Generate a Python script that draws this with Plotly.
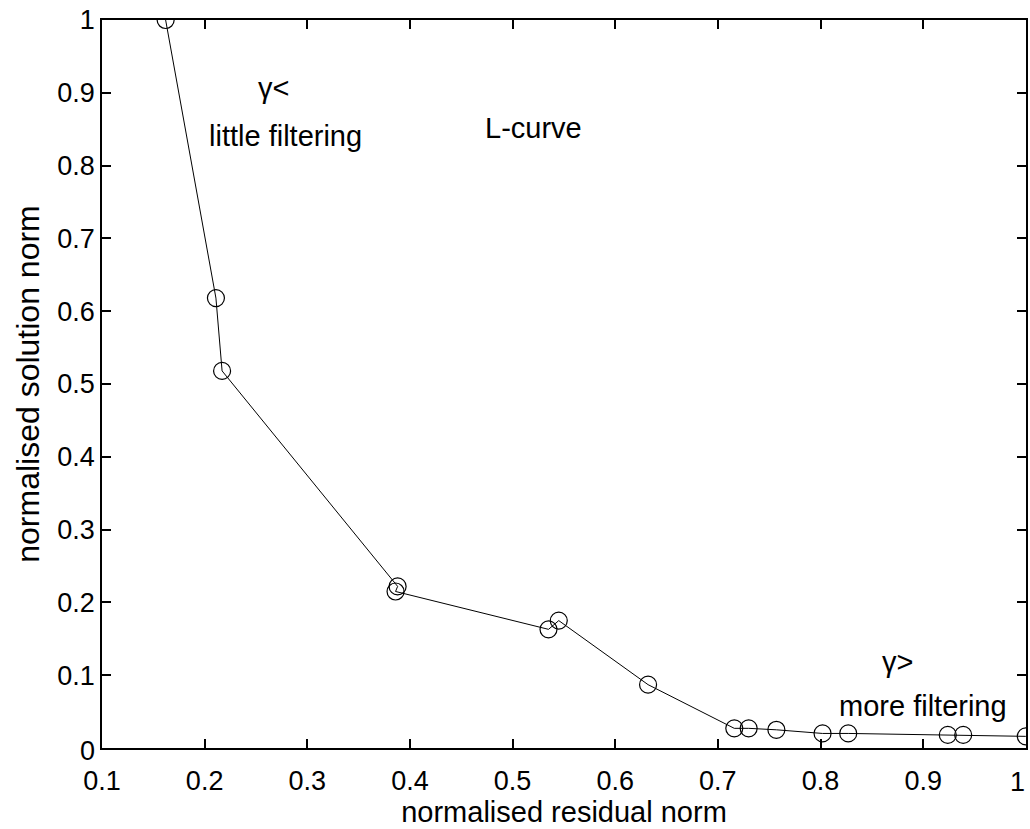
import plotly.graph_objects as go

# L-curve: normalised residual norm vs normalised solution norm
residual_norm = [0.162, 0.211, 0.217, 0.388, 0.386, 0.535, 0.545, 0.632,
                 0.716, 0.730, 0.757, 0.802, 0.827, 0.924, 0.939, 1.000]
solution_norm = [1.000, 0.618, 0.518, 0.222, 0.215, 0.163, 0.175, 0.087,
                 0.027, 0.027, 0.025, 0.020, 0.020, 0.018, 0.018, 0.016]

x_ticks = [0.1, 0.2, 0.3, 0.4, 0.5, 0.6, 0.7, 0.8, 0.9, 1.0]
x_tick_text = ["0.1", "0.2", "0.3", "0.4", "0.5", "0.6", "0.7", "0.8", "0.9", "1"]
y_ticks = [0.0, 0.1, 0.2, 0.3, 0.4, 0.5, 0.6, 0.7, 0.8, 0.9, 1.0]
y_tick_text = ["", "0.1", "0.2", "0.3", "0.4", "0.5", "0.6", "0.7", "0.8", "0.9", "1"]

FONT = "Liberation Sans, Arial, Helvetica, sans-serif"
TICK_SIZE = 27
TEXT_SIZE = 29

fig = go.Figure()
fig.add_trace(go.Scatter(
    x=residual_norm, y=solution_norm,
    mode="lines+markers",
    line=dict(color="black", width=1),
    marker=dict(symbol="circle-open", size=17, color="black", line=dict(width=1.2)),
    showlegend=False,
))

axis_common = dict(
    showgrid=False, zeroline=False,
    showline=True, linecolor="black", linewidth=1.5,
    mirror="ticks", ticks="inside", ticklen=9, tickwidth=1.5, tickcolor="black",
    tickfont=dict(family=FONT, size=TICK_SIZE, color="black"),
)

fig.update_xaxes(
    range=[0.1, 1.0002], tickmode="array", tickvals=x_ticks, ticktext=x_tick_text,
    ticklabelstandoff=8,
    title=dict(text="normalised residual norm", font=dict(family=FONT, size=TEXT_SIZE, color="black"), standoff=0),
    **axis_common,
)
fig.update_yaxes(
    range=[0.0, 1.0], tickmode="array", tickvals=y_ticks, ticktext=y_tick_text,
    title=dict(text="normalised solution norm", font=dict(family=FONT, size=32, color="black"), standoff=8),
    **axis_common,
)

notes = [
    ("γ<", 0.267, 0.907),
    ("little filtering", 0.279, 0.840),
    ("L-curve", 0.520, 0.852),
    ("γ>", 0.875, 0.118),
    ("more filtering", 0.900, 0.058),
]
for text, x, y in notes:
    fig.add_annotation(x=x, y=y, xref="x", yref="y", text=text, showarrow=False,
                       font=dict(family=FONT, size=TEXT_SIZE, color="black"))

# zero label of the vertical axis, set just above the horizontal tick labels
fig.add_annotation(x=0, y=0, xref="paper", yref="paper", text="0", showarrow=False,
                   xanchor="right", yanchor="middle", xshift=-5, yshift=-3,
                   font=dict(family=FONT, size=TICK_SIZE, color="black"))

# last horizontal tick label, kept inside the right edge of the page
fig.add_annotation(x=x_ticks[-1], y=0, xref="x", yref="paper", text=x_tick_text[-1],
                   showarrow=False, xanchor="right", yanchor="top", xshift=1, yshift=-17,
                   font=dict(family=FONT, size=TICK_SIZE, color="black"))

fig.update_layout(
    width=1030, height=829,
    margin=dict(l=102, r=2, t=20, b=81),
    plot_bgcolor="white", paper_bgcolor="white",
)

fig.write_html("out.html")
